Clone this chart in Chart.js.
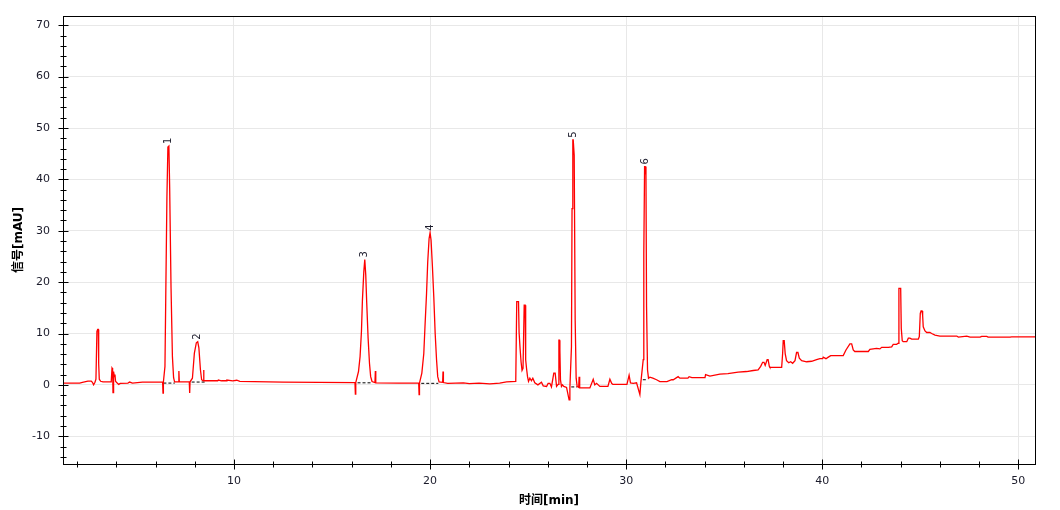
<!DOCTYPE html>
<html>
<head>
<meta charset="utf-8">
<script src="https://cdn.jsdelivr.net/npm/chart.js@4.4.0/dist/chart.umd.min.js"></script>
<style>
  html, body { margin: 0; padding: 0; background: #fff; }
  #wrap { width: 1060px; height: 510px; }
</style>
</head>
<body>
<div id="wrap"><canvas id="myChart" width="1060" height="510"></canvas></div>
<script>
// trace: retention time [min] / signal [mAU]
const retentionTime = [
  1.28, 2.13, 2.27, 2.55, 2.72, 2.78, 2.84, 2.91, 2.96, 3.01, 3.05, 3.08, 3.10, 3.13, 3.20, 3.32,
  3.74, 3.78, 3.81, 3.83, 3.86, 3.90, 3.93, 3.96, 4.03, 4.12, 4.20, 4.59, 4.68, 4.82, 5.33,
  6.36, 6.38, 6.40, 6.48, 6.52, 6.58, 6.63, 6.68, 6.72, 6.79, 6.86, 6.92, 6.97,
  7.17, 7.19, 7.21, 7.72, 7.74, 7.76, 7.88, 7.98, 8.08, 8.15, 8.21, 8.29, 8.35,
  8.43, 8.45, 8.47, 8.51, 9.17, 9.20, 9.36, 9.61, 9.64, 9.93, 10.14, 10.30, 12.50, 16.17,
  16.19, 16.21, 16.35, 16.43, 16.50, 16.55, 16.62, 16.67, 16.72, 16.77, 16.84, 16.91, 16.97, 17.04,
  17.19, 17.21, 17.23, 18.40, 19.42, 19.44, 19.46, 19.58, 19.68, 19.74, 19.82, 19.88, 19.95, 20.00,
  20.05, 20.12, 20.19, 20.26, 20.33, 20.39, 20.46, 20.64, 20.66, 20.68, 20.90, 21.70, 22.00, 22.50,
  23.05, 23.55, 23.90, 24.37, 24.42, 24.51, 24.54, 24.59, 24.64, 24.69, 24.74, 24.80, 24.85, 24.87,
  24.88, 24.92, 24.97, 25.02, 25.09, 25.17, 25.24, 25.34, 25.50, 25.68, 25.77, 25.94, 26.02, 26.11,
  26.19, 26.31, 26.38, 26.45, 26.53, 26.57, 26.60, 26.62, 26.65, 26.70, 26.75, 26.82, 26.96, 27.09,
  27.13, 27.21, 27.24, 27.28, 27.30, 27.35, 27.40, 27.45, 27.50, 27.58, 27.60, 27.62, 27.64, 28.15,
  28.32, 28.40, 28.49, 28.66, 29.07, 29.17, 29.26, 29.32, 30.04, 30.15, 30.22, 30.36, 30.53, 30.70,
  30.75, 30.87, 30.90, 30.94, 30.97, 31.01, 31.04, 31.09, 31.14, 31.21, 31.36, 31.55, 31.72, 32.08,
  32.32, 32.40, 32.65, 32.74, 33.15, 33.21, 33.35, 34.02, 34.05, 34.27, 34.78, 35.19, 35.71, 36.14,
  36.48, 36.73, 36.86, 36.96, 37.03, 37.09, 37.19, 37.24, 37.30, 37.33, 37.93, 37.98, 38.01, 38.06,
  38.11, 38.18, 38.29, 38.39, 38.49, 38.61, 38.69, 38.76, 38.83, 38.95, 39.20, 39.46, 39.71, 39.88,
  40.02, 40.05, 40.19, 40.31, 40.43, 41.07, 41.21, 41.41, 41.50, 41.58, 41.66, 42.35, 42.43, 42.77,
  42.94, 43.03, 43.37, 43.54, 43.62, 43.79, 43.88, 43.91, 44.00, 44.03, 44.08, 44.13, 44.31, 44.39,
  44.47, 44.56, 44.90, 44.95, 45.00, 45.04, 45.09, 45.12, 45.15, 45.24, 45.33, 45.49, 45.58, 45.75,
  46.00, 46.86, 46.94, 47.37, 47.54, 48.05, 48.13, 48.39, 48.46, 49.58, 49.66, 50.85
];
const signal = [
  0.35, 0.35, 0.5, 0.75, 0.75, 0.5, 0.0, 0.5, 1.1, 10.4, 10.8, 10.8, 4.1, 1.1, 0.7, 0.6,
  0.6, 3.3, 3.1, -1.5, 2.6, 1.6, 2.0, 0.7, 0.4, 0.1, 0.3, 0.35, 0.55, 0.35, 0.55,
  0.55, -1.6, 0.55, 3.6, 16.9, 36.6, 46.3, 46.5, 38.3, 18.8, 5.5, 1.4, 0.6,
  0.6, 2.7, 0.6, 0.6, -1.6, 0.6, 1.3, 6.2, 8.2, 8.4, 7.2, 2.9, 1.0,
  0.8, 2.9, 0.8, 0.8, 0.8, 0.95, 0.8, 0.8, 0.95, 0.8, 0.9, 0.7, 0.55, 0.45,
  -1.8, 0.45, 2.6, 5.5, 10.4, 16.5, 22.0, 24.4, 21.4, 15.9, 9.1, 4.2, 1.6, 0.65,
  0.45, 2.7, 0.4, 0.35, 0.35, -1.9, 0.35, 2.3, 6.1, 11.3, 17.8, 23.9, 28.5, 29.6,
  28.2, 23.0, 17.1, 10.0, 4.9, 1.6, 0.6, 0.5, 2.6, 0.45, 0.3, 0.4, 0.25, 0.35,
  0.2, 0.35, 0.6, 0.7, 16.2, 16.2, 10.2, 7.1, 4.5, 2.8, 3.2, 15.5, 15.5, 12.6,
  4.9, 3.2, 1.6, 0.7, 1.3, 0.8, 1.3, 0.4, 0.0, 0.5, -0.2, -0.3, 0.3, 0.3,
  -0.4, 2.3, 2.3, -0.3, 0.1, 8.7, 8.7, 6.8, 1.0, -0.3, 0.0, -0.3, -0.5, -2.9,
  -0.6, 7.4, 34.3, 47.7, 47.7, 44.7, 12.6, 1.3, -0.3, -0.5, 1.6, -0.5, -0.6, -0.6,
  1.1, 0.0, 0.3, -0.3, -0.3, 1.1, 0.3, 0.1, 0.1, 1.9, 0.4, 0.3, 0.4, -1.9,
  0.5, 4.9, 25.6, 42.5, 42.5, 40.8, 15.2, 2.9, 1.3, 1.5, 1.3, 1.0, 0.65, 0.65,
  1.0, 1.0, 1.6, 1.3, 1.3, 1.6, 1.4, 1.4, 2.0, 1.7, 2.1, 2.2, 2.5, 2.6,
  2.8, 2.9, 3.6, 4.4, 4.4, 3.8, 4.9, 4.9, 3.6, 3.4, 3.4, 6.1, 8.6, 8.6,
  6.1, 4.7, 4.3, 4.5, 4.2, 4.7, 6.3, 6.3, 5.2, 4.7, 4.5, 4.6, 4.9, 5.1,
  5.1, 5.4, 5.1, 5.4, 5.7, 5.7, 6.8, 8.0, 8.0, 6.8, 6.5, 6.5, 6.9, 7.1,
  7.0, 7.3, 7.3, 7.4, 7.9, 7.9, 8.1, 18.8, 18.8, 11.0, 8.6, 8.4, 8.4, 9.1,
  9.1, 8.9, 8.9, 9.4, 13.9, 14.4, 14.4, 13.5, 11.3, 10.5, 10.2, 10.2, 10.0, 9.7,
  9.5, 9.5, 9.3, 9.5, 9.3, 9.3, 9.45, 9.45, 9.3, 9.3, 9.35, 9.35
];

// dashed integration baselines under the numbered peaks
const baseStart = [6.40, 7.84, 16.30, 19.55, 27.20, 30.85];
const baseEnd = [6.98, 8.52, 17.02, 20.42, 27.50, 31.08];
const baseLevel = [0.35, 0.55, 0.4, 0.3, -0.4, 1.0];

const peakNames = ['1', '2', '3', '4', '5', '6'];
const peakTimes = [6.66, 8.15, 16.67, 20.0, 27.29, 30.96];
const peakHeights = [46.5, 8.4, 24.4, 29.6, 47.7, 42.5];

const xTickLabels = [10, 20, 30, 40, 50];
const yTickLabels = [-10, 0, 10, 20, 30, 40, 50, 60, 70];

const tickFont = { family: 'DejaVu Sans', size: 11 };
const titleFont = { family: 'DejaVu Sans, Noto Sans CJK SC', size: 12, weight: 'bold' };

const traceData = retentionTime.map((t, i) => ({ x: t, y: signal[i] }));
const baseSets = baseStart.map((s, i) => ({
  data: [{ x: s, y: baseLevel[i] }, { x: baseEnd[i], y: baseLevel[i] }],
  borderColor: '#000',
  borderWidth: 1,
  borderDash: [3, 2],
  pointRadius: 0
}));

// axes with ticks across the axis line, frame and rotated peak numbers
const frameTicks = {
  id: 'frameTicks',
  afterDraw(chart) {
    const { ctx, chartArea: a, scales: { x, y } } = chart;
    ctx.save();
    ctx.strokeStyle = '#000';
    ctx.lineWidth = 1;
    ctx.strokeRect(a.left + 0.5, a.top + 0.5, a.right - a.left, a.bottom - a.top);
    ctx.beginPath();
    for (let v = -14; v <= 71; v += 2) {
      const py = Math.round(y.getPixelForValue(v)) + 0.5;
      const len = v % 10 === 0 ? 5 : 3;
      ctx.moveTo(a.left + 0.5 - len, py);
      ctx.lineTo(a.left + 0.5 + len, py);
    }
    for (let t = 2; t <= 50; t += 2) {
      const px = Math.round(x.getPixelForValue(t)) + 0.5;
      const len = t % 10 === 0 ? 5 : 3;
      ctx.moveTo(px, a.bottom + 0.5 - len);
      ctx.lineTo(px, a.bottom + 0.5 + len);
    }
    ctx.stroke();

    ctx.fillStyle = '#1a1a2a';
    ctx.font = '10px DejaVu Sans';
    ctx.textAlign = 'left';
    ctx.textBaseline = 'middle';
    peakNames.forEach((name, i) => {
      const px = x.getPixelForValue(peakTimes[i]);
      const py = y.getPixelForValue(peakHeights[i]);
      ctx.save();
      ctx.translate(px, py - 2);
      ctx.rotate(-Math.PI / 2);
      ctx.fillText(name, 0, 0);
      ctx.restore();
    });
    ctx.restore();
  }
};

const ctx = document.getElementById('myChart').getContext('2d');
let myChart = new Chart(ctx, {
  type: 'line',
  data: {
    datasets: [
      {
        data: traceData,
        borderColor: '#ff0000',
        borderWidth: 1.3,
        pointRadius: 0,
        tension: 0
      },
      ...baseSets
    ]
  },
  options: {
    responsive: false,
    animation: false,
    devicePixelRatio: 1,
    layout: { padding: { top: 16, right: 25, left: 0, bottom: 0 } },
    plugins: { legend: { display: false }, tooltip: { enabled: false } },
    scales: {
      x: {
        type: 'linear',
        min: 1.28,
        max: 50.85,
        afterBuildTicks: s => { s.ticks = xTickLabels.map(v => ({ value: v })); },
        afterFit: s => { s.height = 46; s.paddingLeft = 0; s.paddingRight = 0; },
        grid: { color: '#e8e8e8', drawTicks: false },
        border: { display: false },
        ticks: { font: tickFont, color: '#1a1a2a', padding: 11, maxRotation: 0 },
        title: { display: true, text: '时间[min]', font: titleFont, color: '#000', padding: { top: 0, bottom: 2 } }
      },
      y: {
        min: -15.4,
        max: 71.8,
        afterBuildTicks: s => { s.ticks = yTickLabels.map(v => ({ value: v })); },
        afterFit: s => { s.width = 63; s.paddingTop = 0; s.paddingBottom = 0; },
        grid: { color: '#e8e8e8', drawTicks: false },
        border: { display: false },
        ticks: { font: tickFont, color: '#1a1a2a', padding: 13 },
        title: { display: true, text: '信号[mAU]', font: titleFont, color: '#000', padding: { top: 12, bottom: 0 } }
      }
    }
  },
  plugins: [frameTicks]
});
</script>
</body>
</html>
